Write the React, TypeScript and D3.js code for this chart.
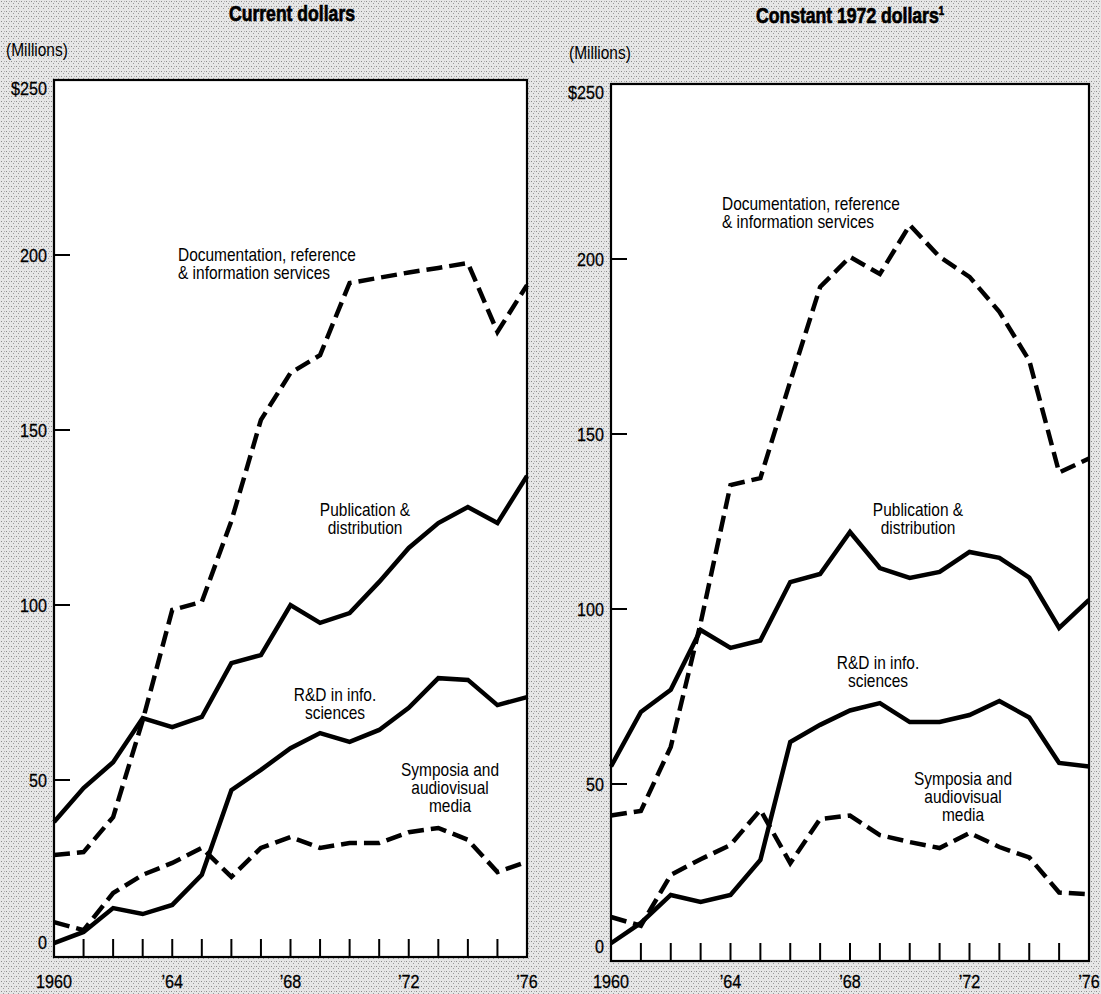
import React from "react";
import * as d3 from "d3";

// ---------- DATA ----------
const years = [1960, 1961, 1962, 1963, 1964, 1965, 1966, 1967, 1968, 1969, 1970, 1971, 1972, 1973, 1974, 1975, 1976];

// Current dollars (millions)
const currentDocumentation = [28.6, 29.4, 39.4, 67, 98.6, 100.9, 124, 152.9, 166.3, 171.4, 192, 193.5, 195, 196.3, 197.7, 178, 191.4];
const currentPublication = [38, 47.7, 55.1, 67.7, 65.1, 68, 83.4, 85.7, 100, 94.9, 97.7, 106.6, 116.3, 123.4, 128, 123.4, 136.9];
const currentRD = [3.4, 6.6, 13.4, 11.7, 14.3, 22.9, 47.1, 52.9, 59.1, 63.4, 60.9, 64.3, 70.6, 79.1, 78.6, 71.4, 73.7];
const currentSymposia = [9.4, 7.1, 17.7, 22.9, 26.3, 30.6, 22.3, 30.6, 33.7, 30.6, 32, 32, 35.1, 36.3, 32.9, 23.7, 26.6];

// Constant 1972 dollars (millions)
const constantDocumentation = [41, 42.3, 60.6, 96, 135.4, 137.4, 165, 192, 200.6, 195.7, 209.7, 200.6, 194.9, 184.9, 171, 139, 143];
const constantPublication = [55, 70.6, 76.9, 94, 88.9, 91, 107.7, 110, 122, 111.7, 108.9, 110.6, 116.3, 114.6, 109, 94.6, 102.6];
const constantRD = [4.5, 10.3, 18.3, 16.3, 18.3, 28.3, 62, 66.9, 71, 73.1, 67.7, 67.7, 69.7, 73.7, 69, 56, 55];
const constantSymposia = [12, 9.5, 24, 28.5, 32.6, 42.6, 27.4, 40, 41, 35.4, 33.4, 31.7, 36, 32, 29, 19, 18.5];

const xLabelYears = [1960, 1964, 1968, 1972, 1976];
const xLabelTexts = ["1960", "\u201964", "\u201968", "\u201972", "\u201976"];
const yTickValues = [0, 50, 100, 150, 200, 250];
const yTickTexts = ["0", "50", "100", "150", "200", "$250"];

const panelTitles = ["Current dollars", "Constant 1972 dollars"];
const seriesNames = [
  ["Documentation, reference", "& information services"],
  ["Publication &", "distribution"],
  ["R&D in info.", "sciences"],
  ["Symposia and", "audiovisual", "media"],
];

// ---------- LAYOUT ----------
const FONT = "'Liberation Sans', Arial, sans-serif";
const SX = 0.86; // horizontal condensing of the typeface

type PanelLayout = {
  x0: number; x1: number; yBottom: number; yTop: number;
  titleX: number; titleY: number; millionsX: number; millionsY: number;
  labels: { x: number; y: number; anchor: string }[];
};

const panels: { layout: PanelLayout; series: number[][]; title: string; sup: boolean }[] = [
  {
    title: panelTitles[0], sup: false,
    series: [currentDocumentation, currentPublication, currentRD, currentSymposia],
    layout: {
      x0: 54, x1: 527, yBottom: 955, yTop: 80,
      titleX: 292, titleY: 21, millionsX: 6, millionsY: 56,
      labels: [
        { x: 178, y: 261, anchor: "start" },
        { x: 365, y: 516, anchor: "middle" },
        { x: 335, y: 701, anchor: "middle" },
        { x: 450, y: 776, anchor: "middle" },
      ],
    },
  },
  {
    title: panelTitles[1], sup: true,
    series: [constantDocumentation, constantPublication, constantRD, constantSymposia],
    layout: {
      x0: 611, x1: 1089, yBottom: 959, yTop: 84,
      titleX: 850, titleY: 23, millionsX: 569, millionsY: 59,
      labels: [
        { x: 722, y: 210, anchor: "start" },
        { x: 918, y: 516, anchor: "middle" },
        { x: 878, y: 669, anchor: "middle" },
        { x: 963, y: 785, anchor: "middle" },
      ],
    },
  },
];

const dashedSeries = [true, false, false, true];

function T({ x, y, anchor = "start", size = 18, weight = "normal", sx = SX, stroke, children }: any) {
  return (
    <text
      transform={`translate(${x},${y}) scale(${sx},1)`}
      textAnchor={anchor}
      fontFamily={FONT}
      fontSize={size}
      fontWeight={weight}
      fill="#000"
      stroke={stroke ? "#000" : undefined}
      strokeWidth={stroke || undefined}
    >
      {children}
    </text>
  );
}

function Panel({ layout, series, title, sup }: { layout: PanelLayout; series: number[][]; title: string; sup: boolean }) {
  const x = d3.scaleLinear().domain([1960, 1976]).range([layout.x0, layout.x1]);
  const y = d3.scaleLinear().domain([0, 250]).range([layout.yBottom, layout.yTop]);
  const line = d3
    .line<number>()
    .x((_, i) => x(years[i]))
    .y((d) => y(d))
    .curve(d3.curveLinear);

  return (
    <g>
      <rect x={layout.x0} y={layout.yTop} width={layout.x1 - layout.x0} height={layout.yBottom - layout.yTop + 2} fill="#fff" stroke="#000" strokeWidth={2.2} />
      <T x={layout.titleX} y={layout.titleY} anchor="middle" size={22} weight="bold" sx={0.8} stroke={0.7}>
        {title}
        {sup && <tspan dy={-8} fontSize={12}>{"1"}</tspan>}
      </T>
      <T x={layout.millionsX} y={layout.millionsY} size={18}>(Millions)</T>
      {yTickValues.map((v, i) => (
        <g key={"yt" + v}>
          {v > 0 && v < 250 && (
            <line x1={layout.x0} x2={layout.x0 + 16} y1={y(v)} y2={y(v)} stroke="#000" strokeWidth={2} />
          )}
          <T
            x={layout.x0 - 7}
            y={v === 250 ? y(v) + 15 : v === 0 ? y(v) - 6 : y(v) + 7}
            anchor="end"
            size={19}
            sx={0.85}
            stroke={0.3}
          >
            {yTickTexts[i]}
          </T>
        </g>
      ))}
      {years.slice(1, -1).map((yr) => (
        <line key={"xt" + yr} x1={x(yr)} x2={x(yr)} y1={layout.yBottom + 1} y2={layout.yBottom - 16} stroke="#000" strokeWidth={2} />
      ))}
      {xLabelYears.map((yr, i) => (
        <T key={"xl" + yr} x={x(yr)} y={988} anchor="middle" size={19} sx={0.85} stroke={0.3}>
          {xLabelTexts[i]}
        </T>
      ))}
      {series.map((s, i) => (
        <path
          key={"s" + i}
          d={line(s) || ""}
          fill="none"
          stroke="#000"
          strokeWidth={4.5}
          strokeLinejoin="miter"
          strokeDasharray={dashedSeries[i] ? "16 7" : undefined}
        />
      ))}
      {seriesNames.map((lines, i) =>
        lines.map((ln, j) => (
          <T key={"lab" + i + "_" + j} x={layout.labels[i].x} y={layout.labels[i].y + j * 18} anchor={layout.labels[i].anchor} size={18}>
            {ln}
          </T>
        ))
      )}
    </g>
  );
}

export default function App() {
  return (
    <svg width={1101} height={994} style={{ position: "absolute", left: 0, top: 0 }}>
      <defs>
        <pattern id="stipple" width={5} height={5} patternUnits="userSpaceOnUse">
          <rect width={5} height={5} fill="#e6e6e6" />
          <rect x={1} y={1} width={1} height={1} fill="#8a8a8a" />
          <rect x={3} y={3} width={1} height={1} fill="#9a9a9a" />
          <rect x={4} y={1} width={1} height={1} fill="#b0b0b0" />
        </pattern>
      </defs>
      <rect x={0} y={0} width={1101} height={994} fill="url(#stipple)" />
      {panels.map((p, i) => (
        <Panel key={i} layout={p.layout} series={p.series} title={p.title} sup={p.sup} />
      ))}
    </svg>
  );
}
